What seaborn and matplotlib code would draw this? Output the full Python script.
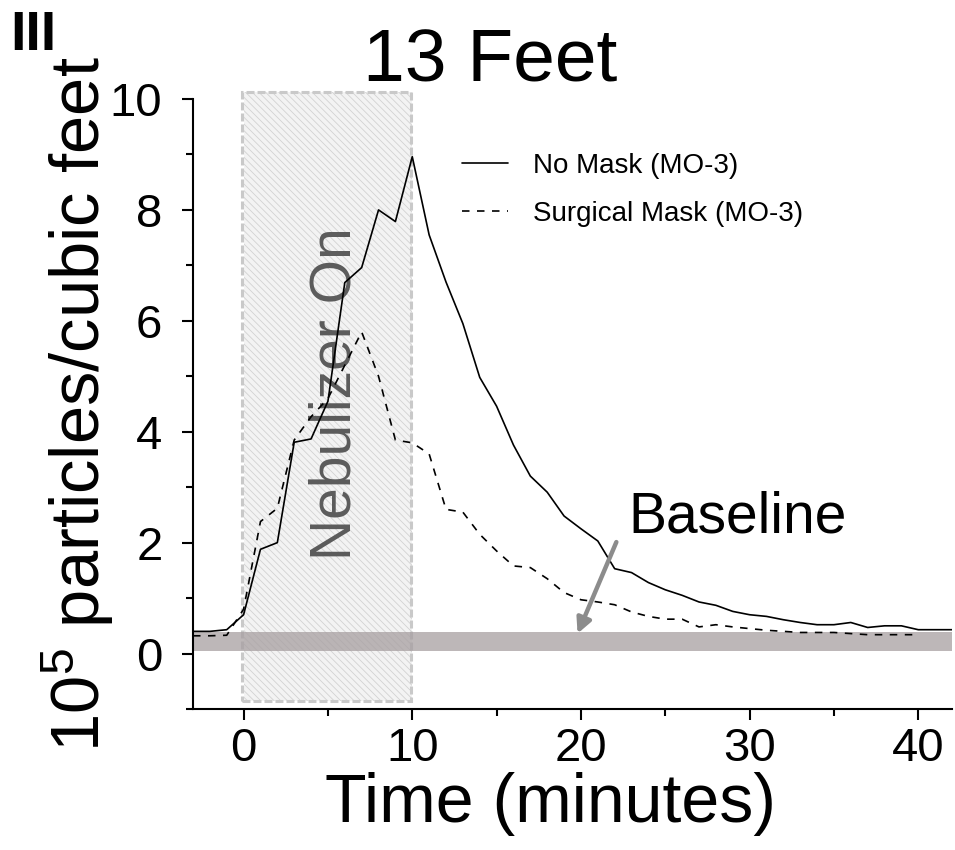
import matplotlib
matplotlib.use("Agg")
import matplotlib.pyplot as plt
from matplotlib.patches import Rectangle
from matplotlib.ticker import MultipleLocator
import pandas as pd
import seaborn as sns

# ---- data -------------------------------------------------------------
minutes_no_mask = list(range(-3, 43))
no_mask = [0.40, 0.40, 0.43, 0.70, 1.88, 2.00, 3.81, 3.87, 4.55, 6.69,
           6.96, 8.00, 7.79, 8.96, 7.55, 6.70, 5.95, 4.98, 4.46, 3.76,
           3.20, 2.91, 2.48, 2.25, 2.03, 1.53, 1.46, 1.28, 1.15, 1.05,
           0.93, 0.87, 0.76, 0.70, 0.67, 0.61, 0.56, 0.52, 0.52, 0.56,
           0.47, 0.50, 0.50, 0.43, 0.43, 0.43]

minutes_surgical = list(range(-3, 41))
surgical_mask = [0.32, 0.32, 0.33, 0.80, 2.38, 2.62, 3.85, 4.27, 4.60, 5.20,
                 5.80, 5.00, 3.85, 3.80, 3.60, 2.60, 2.55, 2.15, 1.85, 1.58,
                 1.55, 1.35, 1.10, 0.97, 0.93, 0.88, 0.75, 0.67, 0.62, 0.62,
                 0.48, 0.52, 0.48, 0.45, 0.42, 0.40, 0.38, 0.38, 0.38, 0.36,
                 0.34, 0.34, 0.34, 0.34]

series_labels = ["No Mask (MO-3)", "Surgical Mask (MO-3)"]
nebulizer_window = (0, 10)        # minutes the nebulizer runs
baseline_band = (0.05, 0.38)      # background particle level
x_ticks = [0, 10, 20, 30, 40]
y_ticks = [0, 2, 4, 6, 8, 10]

# ---- style ------------------------------------------------------------
sns.set_style("ticks")
plt.rcParams["font.family"] = ["Liberation Sans", "DejaVu Sans"]
plt.rcParams["mathtext.fontset"] = "custom"
plt.rcParams["mathtext.rm"] = "Liberation Sans"
plt.rcParams["mathtext.default"] = "regular"
plt.rcParams["hatch.linewidth"] = 0.6
for key in ("text.color", "axes.labelcolor", "xtick.color", "ytick.color",
            "axes.edgecolor"):
    plt.rcParams[key] = "black"

fig = plt.figure(figsize=(9.55, 8.5), dpi=100)
W, H = 955, 850
ax = fig.add_axes([193 / W, 1 - 709 / H, (952 - 193) / W, (709 - 99) / H])

df_no = pd.DataFrame({"t": minutes_no_mask, "v": no_mask})
df_sm = pd.DataFrame({"t": minutes_surgical, "v": surgical_mask})

sns.lineplot(data=df_no, x="t", y="v", ax=ax, color="black", lw=1.2,
             label=series_labels[0], zorder=4)
sns.lineplot(data=df_sm, x="t", y="v", ax=ax, color="black", lw=1.2,
             linestyle=(0, (4.5, 4.5)), label=series_labels[1], zorder=4)

# nebulizer-on shaded window (hatched fill + dashed border)
x0, x1 = nebulizer_window
ax.add_patch(Rectangle((x0, -0.85), x1 - x0, 10.98, facecolor="#f3f3f3",
                       edgecolor="#d2d2d2", lw=0, hatch="\\\\\\\\\\",
                       zorder=1, clip_on=False))
ax.add_patch(Rectangle((x0 - 0.1, -0.85), x1 - x0, 10.98, fill=False,
                       edgecolor="#c9c9c9", lw=2.2,
                       linestyle=(0, (2.6, 1.0)), zorder=1.5, clip_on=False))
ax.text((x0 + x1) / 2 + 0.45, 4.68, "Nebulizer On", rotation=90, ha="center",
        va="center", fontsize=41, color="#5b5b5b", zorder=3)

# baseline band
ax.axhspan(baseline_band[0], baseline_band[1], color="#a79fa1", alpha=0.75,
           lw=0, zorder=2)
ax.annotate("", xy=(19.8, 0.36), xytext=(22.1, 2.01),
            arrowprops=dict(arrowstyle="-|>", color="#8c8c8c", lw=3.2,
                            mutation_scale=22, shrinkA=0, shrinkB=0),
            zorder=5)
ax.text(22.8, 2.46, "Baseline", fontsize=41, ha="left", va="center")

# axes
ax.set_xlim(-3, 42)
ax.set_ylim(-1, 10)
ax.set_xticks(x_ticks)
ax.set_yticks(y_ticks)
ax.xaxis.set_minor_locator(MultipleLocator(5))
ax.yaxis.set_minor_locator(MultipleLocator(1))
ax.tick_params(which="major", length=8, width=1.5, labelsize=34)
ax.tick_params(which="minor", length=5, width=1.5)
ax.tick_params(axis="y", which="major", pad=14)
ax.tick_params(axis="x", which="major", pad=5)
for s in ("top", "right"):
    ax.spines[s].set_visible(False)
for s in ("left", "bottom"):
    ax.spines[s].set_linewidth(1.5)

ax.set_xlabel("Time (minutes)", fontsize=49, va="baseline", ha="center")
ax.xaxis.set_label_coords((550 - 193) / (952 - 193), -(822 - 709) / (709 - 99))
ax.set_ylabel("10$^5$ particles/cubic feet", fontsize=49.5, va="center")
ax.yaxis.set_label_coords(-(193 - 78) / (952 - 193), 0.5)

ax.legend(frameon=False, fontsize=20, loc="upper left", handlelength=1.65,
          handletextpad=0.9, labelspacing=0.8, borderpad=0, borderaxespad=0,
          bbox_to_anchor=(462 / W, 1 - 153 / H), bbox_transform=fig.transFigure)

fig.text(490 / W, 1 - 82 / H, "13 Feet", fontsize=54, ha="center",
         va="baseline")
fig.text(10 / W, 1 - 50 / H, "III", fontsize=40, fontweight="bold",
         ha="left", va="baseline")

fig.savefig("out.png", dpi=100)
